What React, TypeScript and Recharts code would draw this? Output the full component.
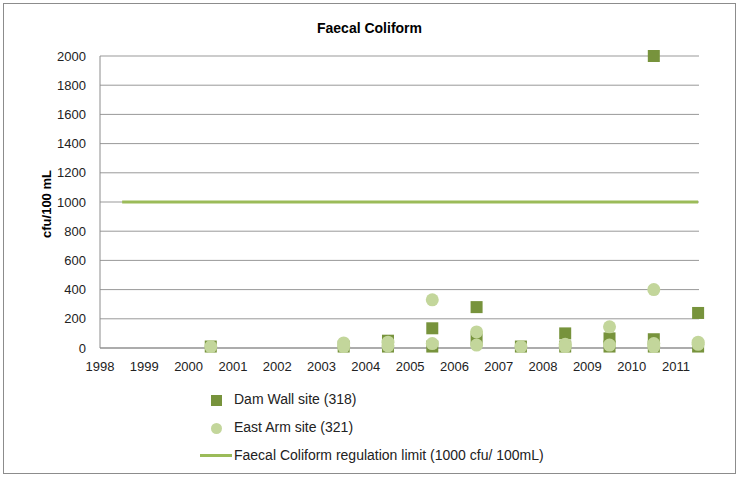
import { ScatterChart, Scatter, XAxis, YAxis, CartesianGrid, ReferenceLine } from 'recharts';

const years = [1998, 1999, 2000, 2001, 2002, 2003, 2004, 2005, 2006, 2007, 2008, 2009, 2010, 2011];
const yTicks = [0, 200, 400, 600, 800, 1000, 1200, 1400, 1600, 1800, 2000];

const damWallX = [2000.5, 2003.5, 2004.5, 2004.5, 2005.5, 2005.5, 2006.5, 2006.5, 2007.5, 2008.5, 2008.5, 2009.5, 2009.5, 2010.5, 2010.5, 2010.5, 2011.5, 2011.5];
const damWallY = [10, 10, 50, 10, 135, 10, 280, 60, 10, 100, 10, 66, 10, 2000, 60, 10, 240, 10];

const eastArmX = [2000.5, 2003.5, 2003.5, 2004.5, 2004.5, 2005.5, 2005.5, 2006.5, 2006.5, 2007.5, 2008.5, 2008.5, 2009.5, 2009.5, 2010.5, 2010.5, 2010.5, 2011.5, 2011.5];
const eastArmY = [10, 35, 10, 40, 15, 330, 30, 110, 20, 10, 25, 10, 145, 20, 400, 30, 10, 40, 25];

const limitX = [1998.5, 2011.5];
const limitValue = 1000;

const damWall = damWallX.map((x, i) => ({ x, y: damWallY[i] }));
const eastArm = eastArmX.map((x, i) => ({ x, y: eastArmY[i] }));

const DARK = '#77933C';
const LIGHT = '#C3D69B';
const LINE = '#9BBB59';
const FONT = '"Liberation Sans", Arial, sans-serif';

const SquareShape = (props: any) => (
  <rect x={props.cx - 6} y={props.cy - 6} width={12} height={12} fill={DARK} />
);
const CircleShape = (props: any) => <circle cx={props.cx} cy={props.cy} r={6.5} fill={LIGHT} />;

export default function App() {
  return (
    <div
      style={{
        position: 'absolute',
        left: 3,
        top: 3,
        width: 731,
        height: 469,
        border: '1px solid #8c8c8c',
        background: '#fff',
        fontFamily: FONT,
      }}
    >
      <div style={{ position: 'absolute', top: 16, left: 0, width: '100%', textAlign: 'center', fontSize: 14, fontWeight: 'bold' }}>
        Faecal Coliform
      </div>
      <div
        style={{
          position: 'absolute',
          left: 42,
          top: 200,
          transform: 'translate(-50%, -50%) rotate(-90deg)',
          fontSize: 13,
          fontWeight: 'bold',
          whiteSpace: 'nowrap',
        }}
      >
        cfu/100 mL
      </div>
      <ScatterChart width={731} height={469} margin={{ top: 52, right: 36, left: 46, bottom: 95 }}>
        <CartesianGrid horizontal vertical={false} stroke="#999999" />
        <XAxis
          type="number"
          dataKey="x"
          domain={[1998, 2011.52]}
          ticks={years}
          tickLine={false}
          axisLine={{ stroke: '#8c8c8c' }}
          tick={{ fontSize: 13, fill: '#222', fontFamily: FONT }}
          tickMargin={8}
          height={30}
        />
        <YAxis
          type="number"
          dataKey="y"
          domain={[0, 2000]}
          ticks={yTicks}
          tickLine={false}
          axisLine={{ stroke: '#8c8c8c' }}
          tick={{ fontSize: 13, fill: '#222', fontFamily: FONT }}
          tickMargin={8}
          width={50}
        />
        <ReferenceLine
          segment={[{ x: limitX[0], y: limitValue }, { x: limitX[1], y: limitValue }]}
          stroke={LINE}
          strokeWidth={3}
        />
        <Scatter data={damWall} shape={SquareShape} isAnimationActive={false} />
        <Scatter data={eastArm} shape={CircleShape} isAnimationActive={false} />
      </ScatterChart>
      <div style={{ position: 'absolute', left: 0, top: 384, fontSize: 14, color: '#222' }}>
        <div style={{ position: 'absolute', left: 207, top: 7, width: 11, height: 11, background: DARK }} />
        <div style={{ position: 'absolute', left: 230, top: 3, whiteSpace: 'nowrap' }}>Dam Wall site (318)</div>
        <div style={{ position: 'absolute', left: 207, top: 35, width: 11, height: 11, borderRadius: '50%', background: LIGHT }} />
        <div style={{ position: 'absolute', left: 230, top: 31, whiteSpace: 'nowrap' }}>East Arm site (321)</div>
        <div style={{ position: 'absolute', left: 196, top: 66, width: 32, height: 3, background: LINE }} />
        <div style={{ position: 'absolute', left: 230, top: 59, whiteSpace: 'nowrap' }}>Faecal Coliform regulation limit (1000 cfu/ 100mL)</div>
      </div>
    </div>
  );
}
